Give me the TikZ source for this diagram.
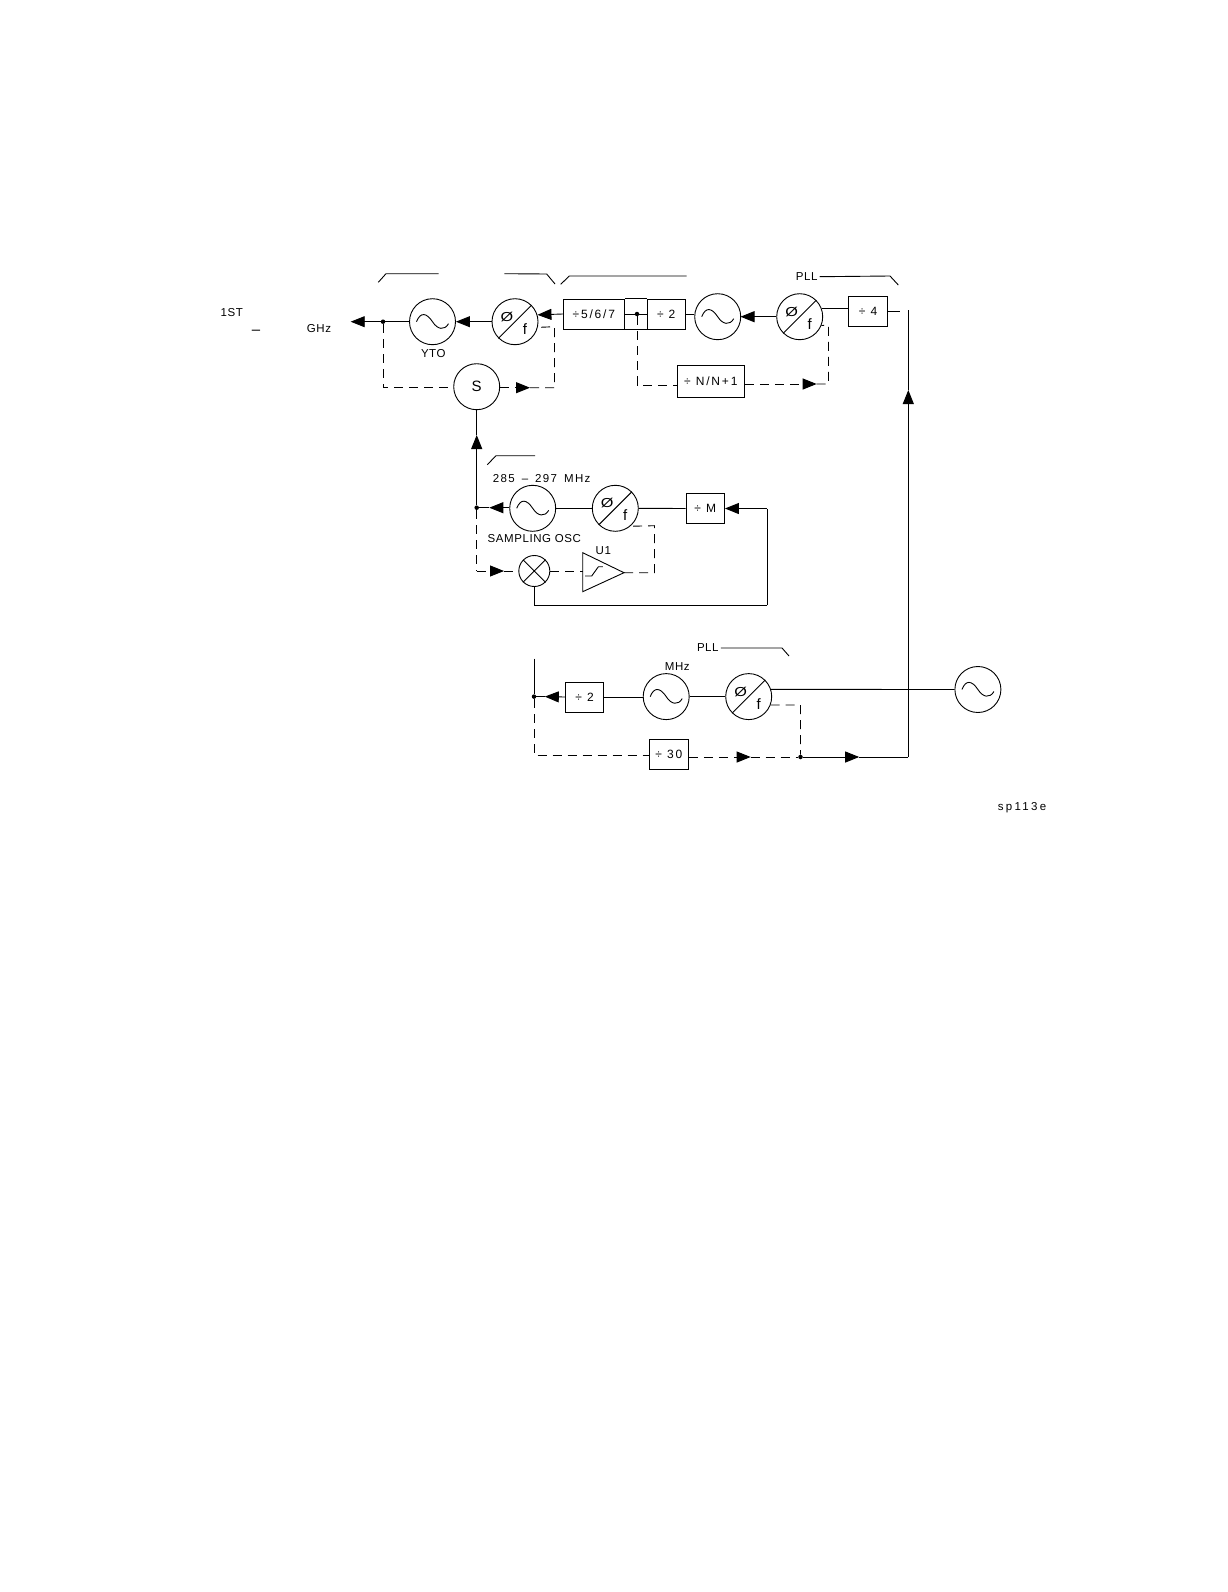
\documentclass[tikz,border=0pt]{standalone}
\usepackage{fontspec}
\usepackage{graphicx}
\setmainfont{Liberation Sans}[LetterSpace=5]
\usetikzlibrary{arrows.meta}
\tikzset{
  x=1pt,y=-1pt,
  base/.style={line width=0.9pt,black},
  wire/.style={base},
  dshline/.style={base,dash pattern=on 9pt off 6pt},
  wtip/.style={-{Triangle[length=14pt,width=11pt]}},
  osc/.style={base,draw,circle,minimum size=46pt,inner sep=0pt},
  sumcirc/.style={base,draw,circle,minimum size=46pt,inner sep=0pt,font=\fontsize{15}{15}\selectfont},
  mixer/.style={base,draw,circle,minimum size=31pt,inner sep=0pt},
  boxn/.style={base,draw,rectangle,inner sep=0pt,font=\fontsize{12}{12}\selectfont\addfontfeature{LetterSpace=15}},
  lbl/.style={inner sep=0pt,font=\fontsize{11.5}{12}\selectfont},
  dotn/.style={circle,fill=black,inner sep=0pt,minimum size=4.5pt},
  sinewave/.pic={\draw[base] (-16,0) .. controls (-12,-10) and (-6,-9) .. (0,0) .. controls (5,8) and (12,9) .. (16,2);},
  pdmark/.pic={\node[inner sep=0pt,font=\fontsize{13}{13}\selectfont] (-pp) at (-8,-5) {\scalebox{1.25}[1]{Ø}};\node[inner sep=0pt,font=\fontsize{15}{15}\selectfont] (-ff) at (10,7) {f};}
}
\begin{document}
\begin{tikzpicture}
\useasboundingbox (0,0) rectangle (1228,1592);
\fill[white] (0,0) rectangle (1228,1592);
% oscillators and phase detectors
\node[osc] (yto) at (432.5,321.7) {};
\pic at (yto.center) {sinewave};
\node[osc] (pda) at (515,321.7) {};
\node[osc] (osb) at (717.7,316.7) {};
\pic at (osb.center) {sinewave};
\node[osc] (pdb) at (799.7,316.7) {};
\node[sumcirc] (sum) at (476.7,386.7) {S};
\node[osc] (osc) at (532.7,508.3) {};
\pic at (osc.center) {sinewave};
\node[osc] (pdc) at (615.3,508.3) {};
\node[osc] (osd) at (666.2,696.6) {};
\pic at (osd.center) {sinewave};
\node[osc] (pdd) at (748.7,696.6) {};
\node[osc] (ose) at (977.9,689.5) {};
\pic at (ose.center) {sinewave};
\foreach \p in {pda,pdb,pdc,pdd}{
  \draw[base] (\p.225) -- (\p.45);
  \pic (\p m) at (\p.center) {pdmark};
}
\node[mixer] (mix) at (534.3,571) {};
\draw[base] (mix.45) -- (mix.225) (mix.135) -- (mix.-45);
% boxes
\node[boxn,minimum width=61pt,minimum height=30pt] (bfive) at (593.8,314) {÷5/6/7};
\node[boxn,minimum width=38.5pt,minimum height=30pt] (btwo) at (666.2,314) {÷ 2};
\node[boxn,minimum width=38.5pt,minimum height=30pt] (bfour) at (868,311) {÷ 4};
\node[boxn,minimum width=67pt,minimum height=31.5pt] (bnn) at (710.8,381.3) {÷ N/N+1};
\node[boxn,minimum width=38.5pt,minimum height=30pt] (bm) at (705.2,508.5) {÷ M};
\node[boxn,minimum width=38.5pt,minimum height=30pt] (bhalf) at (584.5,697) {÷ 2};
\node[boxn,minimum width=39pt,minimum height=30pt] (bthirty) at (668.8,754) {÷ 30};
\draw[base] (bfive.north east) -- (btwo.north west) (bfive.south east) -- (btwo.south west);
% dots
\node[dotn] (da) at (383,321.7) {};
\node[dotn] (db) at (637,314) {};
\node[dotn] (dc) at (476.7,507.7) {};
\node[dotn] (dd) at (534,696.6) {};
\node[dotn] (de) at (800.5,757) {};
% free coordinates
\coordinate (out) at (350.7,321.7);
\coordinate (ca) at (383,387.7);
\coordinate (ta) at (530,387.7);
\coordinate (cb) at (554.5,387.7);
\coordinate (cc) at (554.5,326.7);
\coordinate (ce) at (637,385);
\coordinate (tb) at (816.7,384);
\coordinate (cf) at (828.5,384);
\coordinate (cg) at (828.5,325.3);
\coordinate (tc) at (740.5,316.7);
\coordinate (stub) at (900,311);
\coordinate (top) at (908.3,310);
\coordinate (tup) at (908.3,390);
\coordinate (cr) at (908.3,757);
\coordinate (ts) at (476.7,435);
\coordinate (tt) at (489.3,507.7);
\coordinate (tu) at (504,571);
\coordinate (cu) at (476.7,571);
\coordinate (ua) at (582.7,552.7);
\coordinate (ub) at (582.7,591.7);
\coordinate (uc) at (624,572.7);
\coordinate (ui) at (582.7,571);
\coordinate (cv) at (654.5,572.7);
\coordinate (cw) at (654.5,525.7);
\coordinate (cx) at (534.3,605.3);
\coordinate (cy) at (767,605.3);
\coordinate (cz) at (767,508.5);
\coordinate (vtop) at (534,658.7);
\coordinate (tv) at (544.8,696.6);
\coordinate (cq) at (534,755.4);
\coordinate (tw) at (750.7,757);
\coordinate (cn) at (800.5,705);
\coordinate (tx) at (859.2,757);
% top row
\draw[wire,wtip] (da) -- (out);
\draw[wire] (yto.west) -- (da);
\draw[wire,wtip] (pda.west) -- (yto.east);
\draw[wire,wtip] (bfive.west) -- (pda.17);
\draw[wire] (bfive.east) -- (db) -- (btwo.west);
\draw[wire] (btwo.east) -- (btwo.east -| osb.west);
\draw[wire,wtip] (pdb.west) -- (tc);
\draw[wire] (pdb.20) -- (pdb.20 -| bfour.west);
\draw[wire] (bfour.east) -- (stub);
% YTO sampling loop
\draw[dshline] (da) -- (ca) -- (sum.west |- ca);
\draw[dshline,wtip] (sum.east |- ta) -- (ta);
\draw[dshline] (ta) -- (cb) -- (cc) -- (pda.-14);
% divider loop
\draw[dshline] (db) -- (ce) -- (bnn.west |- ce);
\draw[dshline,wtip] (bnn.east |- tb) -- (tb);
\draw[dshline] (tb) -- (cf) -- (cg) -- (pdb.-22);
% long vertical
\draw[wire,wtip] (cr) -- (tup);
\draw[wire] (tup) -- (top);
% sampling loop
\draw[wire,wtip] (dc) -- (ts);
\draw[wire] (ts) -- (sum.south);
\draw[wire,wtip] (osc.west |- tt) -- (tt);
\draw[wire] (tt) -- (dc);
\draw[wire] (osc.east) -- (pdc.west);
\draw[wire] (pdc.east) -- (bm.west);
\draw[wire,wtip] (cz) -- (bm.east);
\draw[base,line width=1.6pt] (cx) -- (cy);
\draw[wire] (cy) -- (cz);
\draw[wire] (mix.south) -- (cx);
\draw[dshline] (dc) -- (cu);
\draw[dshline,wtip] (cu) -- (tu);
\draw[dshline] (tu) -- (mix.west);
\draw[dshline] (mix.east) -- (ui);
\draw[base] (ua) -- (ub) -- (uc) -- cycle;
\draw[base] ([shift={(2.3,5)}]ui) -- ++(6.7,0) -- ++(6.7,-9.3) -- ++(4.4,0);
\draw[dshline] (uc) -- (cv) -- (cw) -- (pdc.-50);
% lower loop
\draw[wire] (vtop) -- (dd);
\draw[wire,wtip] (bhalf.west) -- (tv);
\draw[wire] (tv) -- (dd);
\draw[wire] (bhalf.east) -- (bhalf.east -| osd.west);
\draw[wire] (osd.east) -- (pdd.west);
\draw[wire] (pdd.18) -- (ose.west);
\draw[dshline] (dd) -- (cq) -- (cq -| bthirty.west);
\draw[dshline,wtip] (bthirty.east |- tw) -- (tw);
\draw[dshline] (tw) -- (de);
\draw[dshline] (pdd.-21) -- (cn) -- (de);
\draw[wire,wtip] (de) -- (tx);
\draw[wire] (tx) -- (cr);
% brackets
\coordinate (ba) at (378.3,282.3); \coordinate (bb) at (386,273.7); \coordinate (bc) at (438.7,273.7);
\draw[base] (ba) -- (bb) -- (bc);
\coordinate (bd) at (504.3,273.7); \coordinate (be) at (546.7,274); \coordinate (bf) at (555,284);
\draw[base] (bd) -- (be) -- (bf);
\coordinate (bg) at (560.7,284.3); \coordinate (bh) at (569.3,276); \coordinate (bi) at (686.7,276);
\draw[base] (bg) -- (bh) -- (bi);
\coordinate (bm1) at (487.3,464.7); \coordinate (bm2) at (496,455.7); \coordinate (bm3) at (535,455.7);
\draw[base] (bm1) -- (bm2) -- (bm3);
% labels
\node[lbl] (tone) at (231.7,312.3) {1ST};
\node[lbl,font=\fontsize{15}{15}\selectfont] (tdash) at (256,332) {–};
\node[lbl] (tghz) at (319,328.7) {GHz};
\node[lbl] (tyto) at (433.3,354) {YTO};
\node[lbl] (tpa) at (806.7,276.7) {PLL};
\node[lbl,font=\fontsize{11.5}{12}\selectfont\addfontfeature{LetterSpace=12}] (tfreq) at (541.7,478.3) {285\hspace{2.4pt} – \hspace{2.4pt}297 \hspace{2.4pt}MHz};
\node[lbl] (tsamp) at (534.3,539) {SAMPLING OSC};
\node[lbl] (tuu) at (603.3,550.7) {U1};
\node[lbl] (tmhz) at (677.3,667) {MHz};
\node[lbl] (tpb) at (707.8,648) {PLL};
\node[lbl,font=\fontsize{11.5}{12}\selectfont\addfontfeature{LetterSpace=20}] (tsp) at (1022,807.5) {sp113e};
\coordinate (pi) at (890,276); \coordinate (pj) at (898.3,285);
\draw[base] (tpa.east) ++(2,0) -- (pi) -- (pj);
\coordinate (pk) at (782,648); \coordinate (pl) at (789,656);
\draw[base] (tpb.east) ++(2,0) -- (pk) -- (pl);
\end{tikzpicture}
\end{document}
